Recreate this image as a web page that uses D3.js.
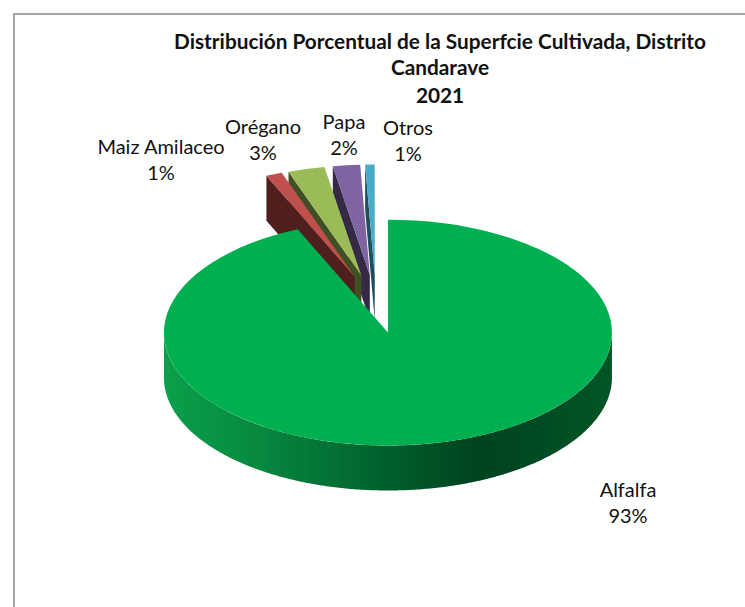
<!DOCTYPE html>
<html>
<head>
<meta charset="utf-8">
<script src="https://cdn.jsdelivr.net/npm/d3@7"></script>
<style>
html,body{margin:0;padding:0;background:#fff;overflow:hidden}
svg{display:block}
text{font-family:Lato,"Open Sans",sans-serif;fill:#111}
</style>
</head>
<body>
<svg id="c" width="745" height="607"></svg>
<script>
const categories = ["Alfalfa", "Maiz Amilaceo", "Orégano", "Papa", "Otros"];
const values = [93.4, 1.2, 2.7, 2.0, 0.7];
const titleLines = ["Distribución Porcentual de la Superfcie Cultivada, Distrito", "Candarave", "2021"];

const topColors = ["#00B050", "#C0504D", "#9BBB59", "#8064A2", "#4BACC6"];
const wallColors = ["#00622d", "#4f1f1e", "#414f25", "#352a45", "#1d4f5c"];
const labelAnchors = [[628, 497], [161, 154], [263, 134], [344, 129], [408, 135]];

const W = 745, H = 607;
const cx = 376, cy = 304;
const tilt = 0.504, depth = 45, explode = 58;
const radiusFront = 224, radiusBack = 219;

const svg = d3.select("#c");
const defs = svg.append("defs");
const grad = defs.append("linearGradient").attr("id", "wall")
  .attr("gradientUnits", "userSpaceOnUse").attr("x1", 164).attr("x2", 612).attr("y1", 0).attr("y2", 0);
[[0, "#0aa04b"], [0.2, "#078a40"], [0.5, "#005f2c"], [0.7, "#00421f"], [1, "#005527"]]
  .forEach(([o, c]) => grad.append("stop").attr("offset", o).attr("stop-color", c));

svg.append("rect").attr("x", 14).attr("y", 14).attr("width", W + 20).attr("height", H + 20)
  .attr("fill", "#fff").attr("stroke", "#a6a6a6").attr("stroke-width", 2);

const pie = d3.pie().sort(null).value(d => d).startAngle(0).endAngle(2 * Math.PI);
const arcs = pie(values);

function project(angle, r, c, dz) {
  const p = d3.pointRadial(angle, r);
  return [c[0] + p[0], c[1] + p[1] * tilt + (dz || 0)];
}
const line = d3.line();
const arcGen = d3.arc().innerRadius(0);

function sliceCenter(a) {
  const mid = (a.startAngle + a.endAngle) / 2;
  return project(mid, explode, [cx, cy]);
}

// back slices first, Alfalfa in front of them
const order = d3.range(1, arcs.length).reverse().concat([0]);

order.forEach(i => {
  const a = arcs[i];
  const c = sliceCenter(a);
  const r = i === 0 ? radiusFront : radiusBack;
  if (i === 0) {
    // front rim
    const angles = d3.range(Math.PI / 2, 3 * Math.PI / 2 + 0.001, 0.01);
    const pts = angles.map(t => project(t, r, c));
    const low = angles.slice().reverse().map(t => project(t, r, c, depth));
    svg.append("path").attr("d", line(pts.concat(low)) + "Z").attr("fill", "url(#wall)");
  } else {
    // side wall under the edge that faces the viewer
    const corner = project(a.startAngle, r, c);
    svg.append("path")
      .attr("d", line([corner, c, [c[0], c[1] + depth], [corner[0], corner[1] + depth]]) + "Z")
      .attr("fill", wallColors[i]);
  }
  svg.append("path")
    .attr("transform", `translate(${c[0]},${c[1]}) scale(1,${tilt})`)
    .attr("d", arcGen.outerRadius(r)({startAngle: a.startAngle, endAngle: a.endAngle}))
    .attr("fill", topColors[i]);
});

const titleY = [49, 75, 103];
titleLines.forEach((t, i) => {
  svg.append("text").attr("x", 440).attr("y", titleY[i]).attr("text-anchor", "middle")
    .attr("font-size", 20.8).attr("font-weight", 700).text(t);
});

const pct = d3.format(".0f");
categories.forEach((name, i) => {
  const [x, y] = labelAnchors[i];
  const g = svg.append("text").attr("text-anchor", "middle").attr("font-size", 20);
  g.append("tspan").attr("x", x).attr("y", y).text(name);
  g.append("tspan").attr("x", x).attr("y", y + 26).text(pct(values[i]) + "%");
});
</script>
</body>
</html>
